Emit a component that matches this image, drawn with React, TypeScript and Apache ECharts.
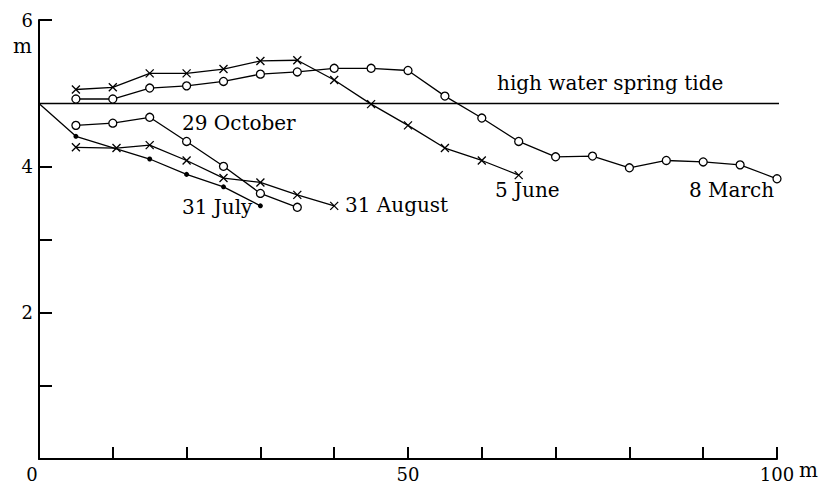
import React, { useEffect, useRef } from "react";
import * as echarts from "echarts";

// ---- data (distance in m, height in m) ----
const juneX = [5, 10, 15, 20, 25, 30, 35, 40, 45, 50, 55, 60, 65];
const juneY = [5.05, 5.08, 5.27, 5.27, 5.33, 5.44, 5.45, 5.18, 4.85, 4.56, 4.25, 4.08, 3.88];

const marchX = [5, 10, 15, 20, 25, 30, 35, 40, 45, 50, 55, 60, 65, 70, 75, 80, 85, 90, 95, 100];
const marchY = [4.92, 4.92, 5.07, 5.1, 5.16, 5.26, 5.29, 5.34, 5.34, 5.31, 4.96, 4.66, 4.34, 4.13, 4.14, 3.98, 4.08, 4.06, 4.02, 3.83];

const octX = [5, 10, 15, 20, 25, 30, 35];
const octY = [4.56, 4.59, 4.67, 4.34, 4.0, 3.63, 3.44];

const augX = [5, 10.5, 15, 20, 25, 30, 35, 40];
const augY = [4.26, 4.25, 4.29, 4.08, 3.84, 3.78, 3.61, 3.46];

const julyX = [0, 5, 15, 20, 25, 30];
const julyY = [4.86, 4.41, 4.1, 3.89, 3.72, 3.46];

const highWaterLevel = 4.86;
const highWaterX = [0, 101.5];

const yTickValues = [1, 2, 3, 4, 6];
const yLabelValues = [2, 4, 6];
const xLabelValues = [0, 50, 100];

const FONT = "DejaVu Serif";
const CROSS = "path://M0,0L10,10M10,0L0,10";

const pairs = (xs: number[], ys: number[]) => xs.map((x, i) => [x, ys[i]]);

export default function App() {
  const ref = useRef<HTMLDivElement>(null);
  useEffect(() => {
    if (!ref.current) return;
    const chart = echarts.init(ref.current, null, { renderer: "svg" });
    const lineStyle = { color: "#000", width: 1.3 };
    const crossItem = { color: "#000", borderColor: "#000", borderWidth: 1.3 };
    const circleItem = { color: "#fff", borderColor: "#000", borderWidth: 1.3 };
    const julyData = julyX.map((x, i) =>
      i === 0 ? { value: [x, julyY[i]], symbol: "none" } : { value: [x, julyY[i]] }
    );
    chart.setOption({
      animation: false,
      backgroundColor: "#fff",
      textStyle: { fontFamily: FONT, color: "#000" },
      grid: { left: 39, right: 46, top: 20, bottom: 25, containLabel: false },
      xAxis: {
        type: "value",
        min: 0,
        max: 100,
        interval: 10,
        splitLine: { show: false },
        axisLine: { lineStyle: { color: "#000", width: 2 } },
        axisTick: { inside: true, length: 12, lineStyle: { color: "#000", width: 2 } },
        axisLabel: {
          customValues: xLabelValues,
          fontSize: 18,
          fontFamily: FONT,
          color: "#000",
          margin: 6,
          formatter: (v: number) => (v === 0 ? "{z|0}" : String(v)),
          rich: { z: { fontSize: 18, fontFamily: FONT, color: "#000", padding: [0, 14, 0, 0] } },
        },
      },
      yAxis: {
        type: "value",
        min: 0,
        max: 6,
        interval: 1,
        splitLine: { show: false },
        axisLine: { lineStyle: { color: "#000", width: 2 } },
        axisTick: {
          inside: true,
          length: 13,
          customValues: yTickValues,
          lineStyle: { color: "#000", width: 2 },
        },
        axisLabel: {
          customValues: yLabelValues,
          fontSize: 18,
          fontFamily: FONT,
          color: "#000",
          margin: 6,
        },
      },
      graphic: [
        { type: "text", left: 13, top: 36, style: { text: "m", font: `20px '${FONT}'`, fill: "#000" } },
        { type: "text", left: 799, top: 460, style: { text: "m", font: `20px '${FONT}'`, fill: "#000" } },
        { type: "text", left: 497, top: 73, style: { text: "high water spring tide", font: `20px '${FONT}'`, fill: "#000" } },
        { type: "text", left: 182, top: 113, style: { text: "29 October", font: `20px '${FONT}'`, fill: "#000" } },
        { type: "text", left: 182, top: 197, style: { text: "31 July", font: `20px '${FONT}'`, fill: "#000" } },
        { type: "text", left: 345, top: 195, style: { text: "31 August", font: `20px '${FONT}'`, fill: "#000" } },
        { type: "text", left: 495, top: 180, style: { text: "5 June", font: `20px '${FONT}'`, fill: "#000" } },
        { type: "text", left: 689, top: 180, style: { text: "8 March", font: `20px '${FONT}'`, fill: "#000" } },
      ],
      series: [
        {
          name: "high water spring tide",
          type: "line",
          data: highWaterX.map((x) => [x, highWaterLevel]),
          symbol: "none",
          clip: false,
          lineStyle: { color: "#000", width: 1.5 },
        },
        {
          name: "5 June",
          type: "line",
          data: pairs(juneX, juneY),
          symbol: CROSS,
          symbolSize: 8,
          lineStyle,
          itemStyle: crossItem,
        },
        {
          name: "8 March",
          type: "line",
          data: pairs(marchX, marchY),
          symbol: "circle",
          symbolSize: 8,
          lineStyle,
          itemStyle: circleItem,
        },
        {
          name: "29 October",
          type: "line",
          data: pairs(octX, octY),
          symbol: "circle",
          symbolSize: 8,
          lineStyle,
          itemStyle: circleItem,
        },
        {
          name: "31 August",
          type: "line",
          data: pairs(augX, augY),
          symbol: CROSS,
          symbolSize: 8,
          lineStyle,
          itemStyle: crossItem,
        },
        {
          name: "31 July",
          type: "line",
          data: julyData,
          symbol: "circle",
          symbolSize: 5,
          lineStyle,
          itemStyle: { color: "#000" },
        },
      ],
    });
    return () => chart.dispose();
  }, []);
  return (
    <div
      ref={ref}
      style={{ position: "fixed", left: 0, top: 0, width: 823, height: 484, background: "#fff" }}
    />
  );
}
